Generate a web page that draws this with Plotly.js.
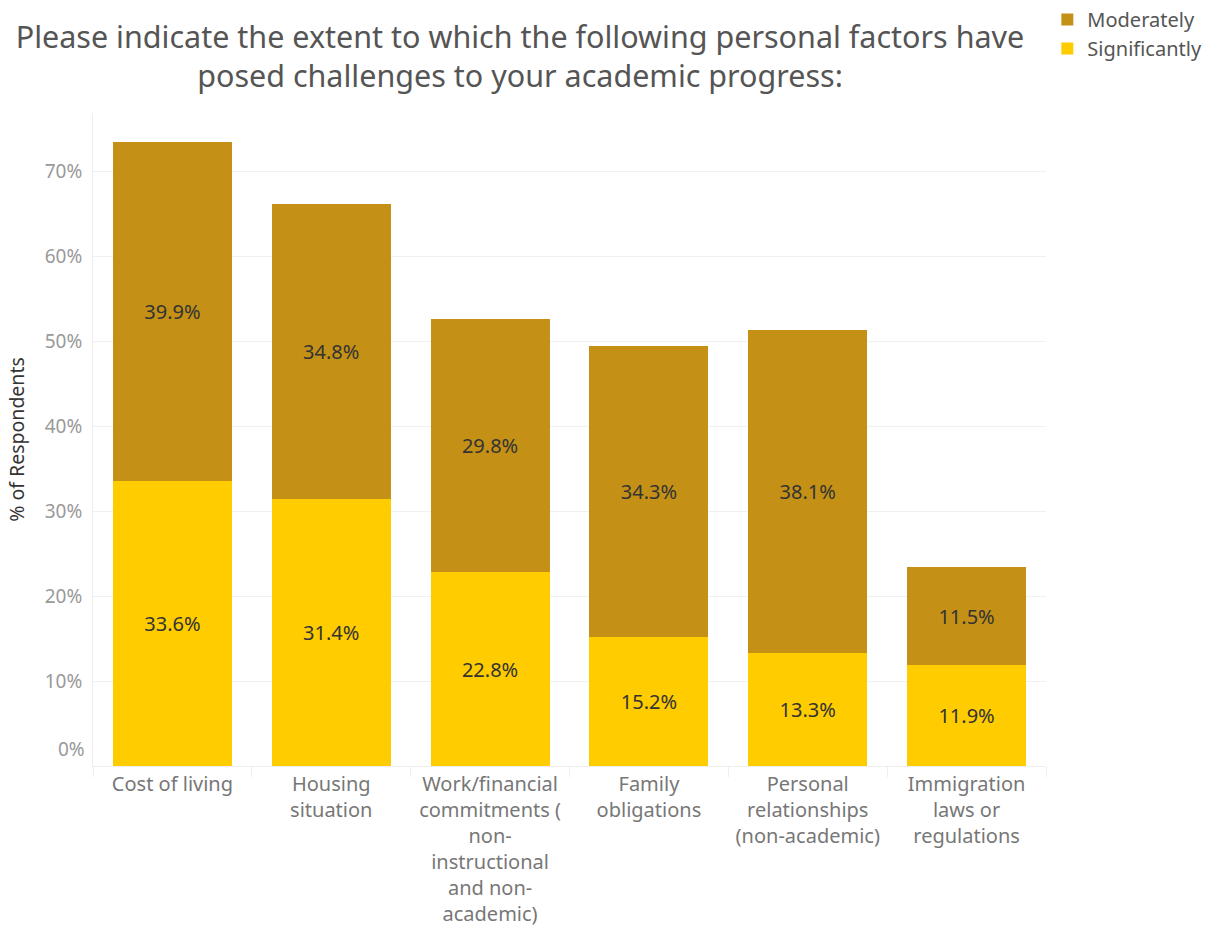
<!DOCTYPE html>
<html>
<head>
<meta charset="utf-8">
<script src="https://cdn.plot.ly/plotly-3.0.1.min.js"></script>
<style>html,body{margin:0;padding:0;background:#fff;}#chart{width:1215px;height:934px;}</style>
</head>
<body>
<div id="chart"></div>
<script>
const categories = [
  "Cost of living",
  "Housing<br>situation",
  "Work/financial<br>commitments (<br>non-<br>instructional<br>and non-<br>academic)",
  "Family<br>obligations",
  "Personal<br>relationships<br>(non-academic)",
  "Immigration<br>laws or<br>regulations"
];
const significantly = [33.6, 31.4, 22.8, 15.2, 13.3, 11.9];
const moderately = [39.9, 34.8, 29.8, 34.3, 38.1, 11.5];
const yTicks = [10, 20, 30, 40, 50, 60, 70];
const yTickText = ["10%", "20%", "30%", "40%", "50%", "60%", "70%"];

const FONT = "'Noto Sans', 'Open Sans', sans-serif";
const labelFont = {family: FONT, size: 20, color: "#333"};

const traces = [
  {
    type: "bar", name: "Significantly", x: categories, y: significantly,
    marker: {color: "#FFCC00"},
    text: significantly.map(v => v.toFixed(1) + "%"),
    textposition: "inside", insidetextanchor: "middle",
    textfont: labelFont, hoverinfo: "none"
  },
  {
    type: "bar", name: "Moderately", x: categories, y: moderately,
    marker: {color: "#C49116"},
    text: moderately.map(v => v.toFixed(1) + "%"),
    textposition: "inside", insidetextanchor: "middle",
    textfont: labelFont, hoverinfo: "none"
  }
];

const layout = {
  width: 1215, height: 934,
  paper_bgcolor: "#fff", plot_bgcolor: "#fff",
  margin: {l: 93, r: 169, t: 113, b: 168, autoexpand: false},
  barmode: "stack", bargap: 0.25,
  font: {family: FONT, color: "#666"},
  title: {
    text: "Please indicate the extent to which the following personal factors have<br>posed challenges to your academic progress:",
    font: {family: FONT, size: 30.5, color: "#555"},
    x: 0.428, xref: "container", xanchor: "center",
    y: 0.949, yref: "container", yanchor: "top",
    automargin: false
  },
  xaxis: {
    type: "category",
    tickfont: {family: FONT, size: 20, color: "#777"},
    ticks: "outside", tickson: "boundaries", ticklen: 10, tickcolor: "#eee",
    showline: true, linecolor: "#eee", linewidth: 1,
    showgrid: false, automargin: false
  },
  yaxis: {
    range: [0, 76.9],
    tickvals: yTicks, ticktext: yTickText,
    tickfont: {family: FONT, size: 19, color: "#999"},
    showgrid: true, gridcolor: "#f0f0f0", gridwidth: 1,
    zeroline: false, showline: true, linecolor: "#eee",
    ticks: "", ticklabelstandoff: 6, automargin: false,
    title: {text: "% of Respondents", font: {family: FONT, size: 19.5, color: "#333"}, standoff: 14}
  },
  legend: {
    xref: "container", yref: "container",
    x: 0.862, xanchor: "left", y: 1.0, yanchor: "top",
    traceorder: "reversed",
    font: {family: FONT, size: 20, color: "#555"},
    itemwidth: 30, tracegroupgap: 0
  },
  annotations: [
    {
      text: "0%", xref: "paper", yref: "y", x: 0, y: 0,
      xanchor: "right", yanchor: "bottom", xshift: -6, yshift: 2,
      showarrow: false, font: {family: FONT, size: 19, color: "#999"}
    }
  ],
  showlegend: true
};

Plotly.newPlot("chart", traces, layout, {displayModeBar: false, staticPlot: true});
</script>
</body>
</html>
